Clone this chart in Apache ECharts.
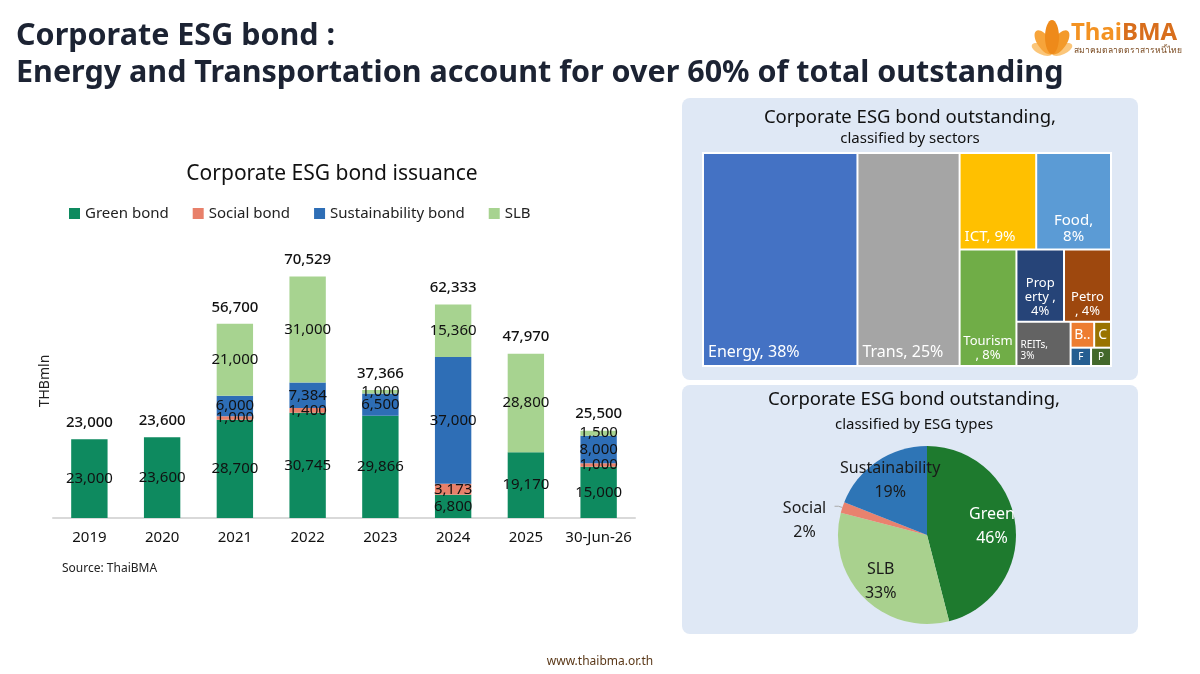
<!DOCTYPE html>
<html>
<head>
<meta charset="utf-8">
<script src="https://cdn.jsdelivr.net/npm/echarts@6/dist/echarts.min.js"></script>
<style>
html,body{margin:0;padding:0;background:#ffffff;}
#chart{width:1200px;height:674px;}
</style>
</head>
<body>
<div id="chart"></div>
<script>
// ---------- data ----------
const years = ['2019', '2020', '2021', '2022', '2023', '2024', '2025', '30-Jun-26'];
const greenBond = [23000, 23600, 28700, 30745, 29866, 6800, 19170, 15000];
const socialBond = [0, 0, 1000, 1400, 0, 3173, 0, 1000];
const sustainabilityBond = [0, 0, 6000, 7384, 6500, 37000, 0, 8000];
const slbBond = [0, 0, 21000, 31000, 1000, 15360, 28800, 1500];

const sectorNames = ['Energy', 'Trans', 'ICT', 'Food', 'Tourism', 'Property', 'Petro', 'REITs', 'B', 'C', 'F', 'P'];
const sectorShares = [37.8, 25, 8.5, 8.3, 7.6, 3.95, 3.9, 2.75, 0.7, 0.5, 0.43, 0.42];
const sectorLabels = ['Energy, 38%', 'Trans, 25%', 'ICT, 9%', 'Food,\n8%', 'Tourism\n, 8%', 'Prop\nerty ,\n4%', 'Petro\n, 4%', 'REITs,\n3%', 'B..', 'C', 'F', 'P'];

const esgTypes = ['Green', 'SLB', 'Social', 'Sustainability'];
const esgShares = [46, 33, 2, 19];

// ---------- styles ----------
const FONT = 'Noto Sans';
const barColors = ['#0E8A5F', '#E8806A', '#2E6EB6', '#A7D390'];
const sectorColors = ['#4472C4', '#A5A5A5', '#FFC000', '#5B9BD5', '#70AD47', '#264478', '#9E480E', '#636363', '#ED7D31', '#997300', '#255E91', '#43682B'];
const sectorLabelStyle = [
  {position: 'insideBottomLeft', fontSize: 16, padding: 4},
  {position: 'insideBottomLeft', fontSize: 16, padding: 4},
  {position: 'insideBottomLeft', fontSize: 15, padding: 4},
  {position: 'insideBottom', fontSize: 15, padding: 4},
  {position: 'insideBottom', fontSize: 13, padding: 3},
  {position: 'insideBottom', fontSize: 13, padding: 3},
  {position: 'insideBottom', fontSize: 13, padding: 3},
  {position: 'insideBottomLeft', fontSize: 10, padding: 3},
  {position: 'inside', fontSize: 14, padding: 0},
  {position: 'inside', fontSize: 14, padding: 0},
  {position: 'inside', fontSize: 10, padding: 0},
  {position: 'inside', fontSize: 10, padding: 0}
];
const pieColors = ['#1E7A2E', '#A9D18E', '#E9826E', '#2E75B6'];
const pieLabelColors = ['#ffffff', '#1a1a1a', '#1a1a1a', '#1a1a1a'];

const totals = years.map((_, i) => greenBond[i] + socialBond[i] + sustainabilityBond[i] + slbBond[i]);
const fmt = v => Number(v).toLocaleString('en-US');

const chart = echarts.init(document.getElementById('chart'), null, {renderer: 'canvas'});

function segSeries(name, data, color) {
  return {
    name: name, type: 'bar', stack: 'issuance', data: data, barWidth: '50%',
    itemStyle: {color: color},
    label: {
      show: true, position: 'inside', color: '#111', fontSize: 15, fontFamily: FONT,
      formatter: p => (p.value ? fmt(p.value) : '')
    }
  };
}

const option = {
  animation: false,
  backgroundColor: '#ffffff',
  textStyle: {fontFamily: FONT},
  legend: {
    data: ['Green bond', 'Social bond', 'Sustainability bond', 'SLB'],
    left: 64, top: 201, icon: 'rect', itemWidth: 11, itemHeight: 11, itemGap: 24,
    textStyle: {fontSize: 15, color: '#222', fontFamily: FONT}
  },
  grid: {left: 53, top: 244, width: 582, height: 274, containLabel: false},
  xAxis: {
    type: 'category', data: years,
    axisLine: {lineStyle: {color: '#d9d9d9', width: 2}},
    axisTick: {show: false},
    axisLabel: {color: '#111', fontSize: 15, margin: 12, interval: 0, fontFamily: FONT}
  },
  yAxis: {
    type: 'value', min: 0, max: 80000,
    axisLine: {show: false}, axisTick: {show: false}, axisLabel: {show: false}, splitLine: {show: false},
    name: 'THBmln', nameLocation: 'middle', nameGap: 1,
    nameTextStyle: {fontSize: 14, color: '#222', fontFamily: FONT}
  },
  series: [
    segSeries('Green bond', greenBond, barColors[0]),
    segSeries('Social bond', socialBond, barColors[1]),
    segSeries('Sustainability bond', sustainabilityBond, barColors[2]),
    segSeries('SLB', slbBond, barColors[3]),
    {
      name: 'Total', type: 'bar', stack: 'issuance', barWidth: '50%',
      data: years.map(() => 0),
      itemStyle: {color: 'transparent'},
      label: {
        show: true, position: 'top', distance: 9, color: '#111', fontSize: 15, fontWeight: 500, fontFamily: FONT,
        formatter: p => fmt(totals[p.dataIndex])
      }
    },
    {
      name: 'Sectors', type: 'treemap',
      left: 702, top: 152, width: 410, height: 215,
      roam: false, nodeClick: false, breadcrumb: {show: false},
      squareRatio: 1,
      levels: [{itemStyle: {borderColor: '#ffffff', borderWidth: 2, gapWidth: 2}}],
      itemStyle: {borderWidth: 0},
      label: {show: true, color: '#ffffff', fontFamily: FONT, overflow: 'none', formatter: '{b}'},
      upperLabel: {show: false},
      data: sectorNames.map((n, i) => ({
        name: sectorLabels[i],
        value: sectorShares[i],
        itemStyle: {color: sectorColors[i]},
        label: Object.assign({lineHeight: sectorLabelStyle[i].fontSize + 1}, sectorLabelStyle[i])
      }))
    },
    {
      name: 'ESG types', type: 'pie', center: [927, 535], radius: [0, 89],
      startAngle: 90, clockwise: true, silent: true,
      label: {show: false}, labelLine: {show: false},
      data: esgTypes.map((n, i) => ({name: n, value: esgShares[i], itemStyle: {color: pieColors[i]}}))
    },
    {
      name: 'ESG labels', type: 'pie', center: [927, 535], radius: [36, 89],
      startAngle: 90, clockwise: true, silent: true, avoidLabelOverlap: false,
      itemStyle: {color: 'transparent'},
      data: esgTypes.map((n, i) => ({
        name: n, value: esgShares[i],
        itemStyle: {color: 'transparent'},
        label: n === 'Social' ? {
          show: true, position: 'outside', color: pieLabelColors[i], fontSize: 16, fontFamily: FONT,
          padding: [28, 0, 0, 0],
          formatter: '{a|{b}}\n{a|{d}%}', rich: {a: {width: 50, align: 'center', fontSize: 16, lineHeight: 24, color: '#1a1a1a', fontFamily: FONT}}
        } : {
          show: true, position: 'inside', color: pieLabelColors[i], fontSize: 16, lineHeight: 24, fontFamily: FONT,
          formatter: '{b}\n{d}%'
        },
        labelLine: n === 'Social' ? {show: true, length: 4, length2: 4, lineStyle: {color: '#aaa'}} : {show: false}
      }))
    }
  ],
  graphic: [
    {type: 'rect', shape: {x: 682, y: 98, width: 456, height: 282, r: 8}, style: {fill: '#DFE8F5'}, z: -10},
    {type: 'rect', shape: {x: 682, y: 385, width: 456, height: 249, r: 8}, style: {fill: '#DFE8F5'}, z: -10},
    {type: 'text', x: 16, y: 36, style: {text: 'Corporate ESG bond :', fontSize: 30.5, fontWeight: 'bold', fill: '#1c2333', fontFamily: FONT, textVerticalAlign: 'middle'}},
    {type: 'text', x: 16, y: 73, style: {text: 'Energy and Transportation account for over 60% of total outstanding', fontSize: 30.5, fontWeight: 'bold', fill: '#1c2333', fontFamily: FONT, textVerticalAlign: 'middle'}},
    {type: 'text', x: 332, y: 174, style: {text: 'Corporate ESG bond issuance', fontSize: 21, fill: '#111', fontFamily: FONT, textAlign: 'center', textVerticalAlign: 'middle'}},
    {type: 'text', x: 62, y: 569, style: {text: 'Source: ThaiBMA', fontSize: 12, fill: '#222', fontFamily: FONT, textVerticalAlign: 'middle'}},
    {type: 'text', x: 910, y: 118, style: {text: 'Corporate ESG bond outstanding,', fontSize: 18.5, fill: '#111', fontFamily: FONT, textAlign: 'center', textVerticalAlign: 'middle'}},
    {type: 'text', x: 910, y: 139, style: {text: 'classified by sectors', fontSize: 15, fill: '#111', fontFamily: FONT, textAlign: 'center', textVerticalAlign: 'middle'}},
    {type: 'text', x: 914, y: 400, style: {text: 'Corporate ESG bond outstanding,', fontSize: 18.5, fill: '#111', fontFamily: FONT, textAlign: 'center', textVerticalAlign: 'middle'}},
    {type: 'text', x: 914, y: 425, style: {text: 'classified by ESG types', fontSize: 15, fill: '#111', fontFamily: FONT, textAlign: 'center', textVerticalAlign: 'middle'}},
    {type: 'text', x: 600, y: 662, style: {text: 'www.thaibma.or.th', fontSize: 12, fill: '#5a3818', fontFamily: FONT, textAlign: 'center', textVerticalAlign: 'middle'}},
    // logo
    {type: 'group', x: 1052, y: 54, children: [
      {type: 'ellipse', rotation: 1.15, shape: {cx: 0, cy: -11, rx: 5, ry: 11}, style: {fill: '#FBC67A'}},
      {type: 'ellipse', rotation: -1.15, shape: {cx: 0, cy: -11, rx: 5, ry: 11}, style: {fill: '#FBC67A'}},
      {type: 'ellipse', rotation: 0.6, shape: {cx: 0, cy: -14, rx: 6.5, ry: 14}, style: {fill: '#F7A43A'}},
      {type: 'ellipse', rotation: -0.6, shape: {cx: 0, cy: -14, rx: 6.5, ry: 14}, style: {fill: '#F39A2A'}},
      {type: 'ellipse', rotation: 0, shape: {cx: 0, cy: -17, rx: 7, ry: 17}, style: {fill: '#EE8A1A'}}
    ]},
    {type: 'text', x: 1071, y: 33, style: {
      text: '{a|Thai}{b|BMA}', textVerticalAlign: 'middle',
      rich: {a: {fontSize: 24, fontWeight: 'bold', fill: '#F39222', color: '#F39222', fontFamily: FONT},
             b: {fontSize: 24, fontWeight: 'bold', fill: '#D86E1C', color: '#D86E1C', fontFamily: FONT}}
    }},
    {type: 'text', x: 1074, y: 51, style: {text: 'สมาคมตลาดตราสารหนี้ไทย', fontSize: 8.5, fill: '#7a4a20', fontFamily: FONT, textVerticalAlign: 'middle'}}
  ]
};

chart.setOption(option);
</script>
</body>
</html>
